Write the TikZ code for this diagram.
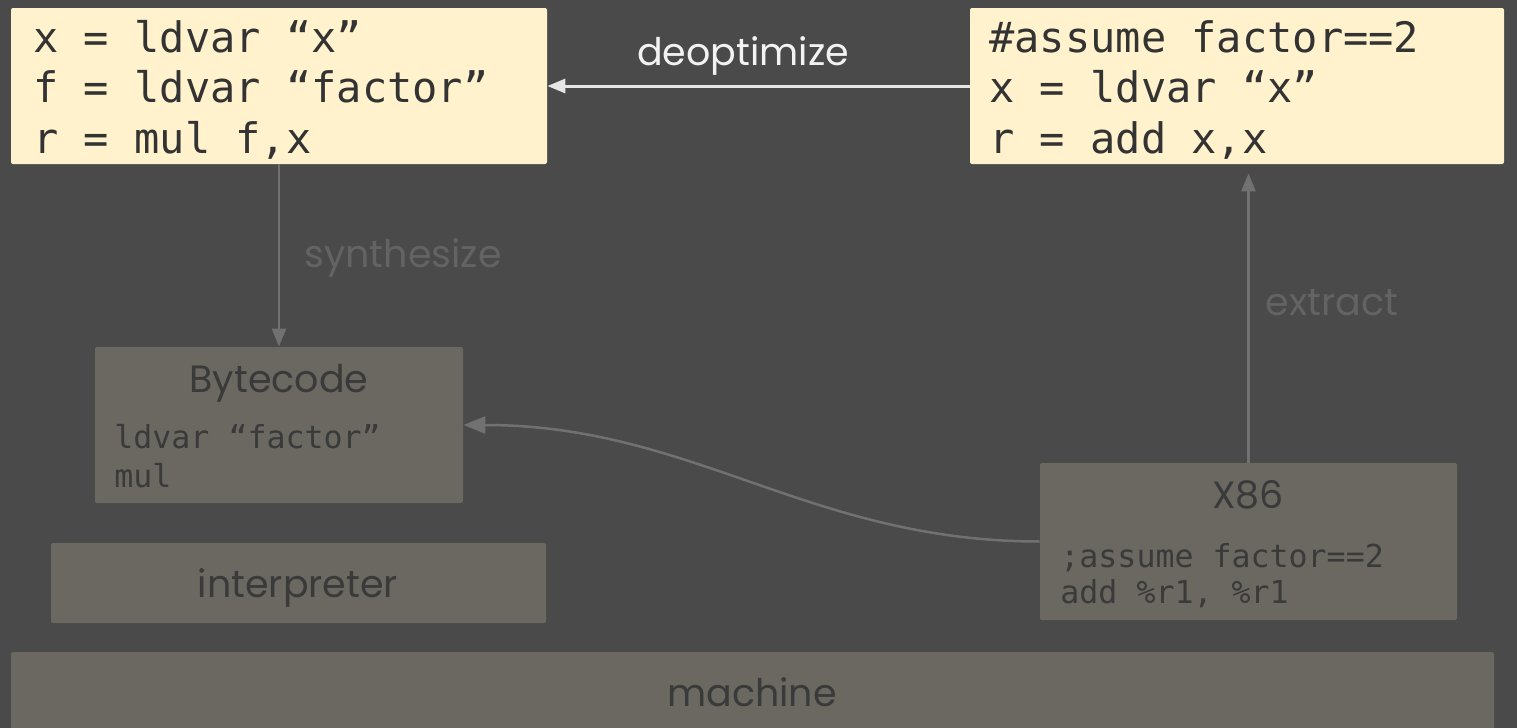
\documentclass[tikz,border=0pt]{standalone}
\usepackage{fontspec}
\setmainfont{Poppins}
\newfontfamily\codefont{DejaVu Sans Mono}
\usetikzlibrary{arrows.meta,fit}

\definecolor{bg}{HTML}{4A4A4A}
\definecolor{cream}{HTML}{FFF2CC}
\definecolor{slab}{HTML}{6B6862}
\definecolor{ink}{HTML}{3A3A3A}
\definecolor{codeink}{HTML}{333333}
\definecolor{faint}{HTML}{636363}
\definecolor{wire}{HTML}{717171}
\definecolor{bright}{HTML}{E6E6E6}
\definecolor{labelwhite}{HTML}{F2F2F2}

\begin{document}
\begin{tikzpicture}[x=0.5pt,y=-0.5pt,
  creambox/.style={fill=cream, rounded corners=1pt, inner sep=0pt},
  slabbox/.style={fill=slab, rounded corners=1pt, inner sep=0pt},
  bigcode/.style={inner sep=0pt, anchor=base west, text=codeink,
    font=\codefont\fontsize{21pt}{25pt}\selectfont},
  smallcode/.style={inner sep=0pt, anchor=base west, text=ink,
    font=\codefont\fontsize{15.8pt}{19pt}\selectfont},
  title/.style={inner sep=0pt, anchor=base, text=ink,
    font=\fontsize{19pt}{23pt}\selectfont},
  edgelabel/.style={inner sep=0pt, anchor=base, text=faint,
    font=\fontsize{19pt}{23pt}\selectfont},
  flow/.style={draw=wire, line width=1.25pt,
    -{Triangle[length=9pt,width=7pt]}},
]
% canvas
\fill[bg] (0,0) rectangle (1517,728);
\useasboundingbox (0,0) rectangle (1517,728);

% source-level IR (left) and optimized IR (right)
\node[creambox, fit={(11,8) (547,164)}] (src) {};
\node[bigcode] (src1) at (33,52)  {x = ldvar “x”};
\node[bigcode] (src2) at (33,102) {f = ldvar “factor”};
\node[bigcode] (src3) at (33,153) {r = mul f,x};

\node[creambox, fit={(970,8) (1504,164)}] (opt) {};
\node[bigcode] (opt1) at (989,52)  {\#assume factor==2};
\node[bigcode] (opt2) at (989,102) {x = ldvar “x”};
\node[bigcode] (opt3) at (989,153) {r = add x,x};

% bytecode
\node[slabbox, fit={(95,347) (463,503)}] (bc) {};
\node[title] (bctitle) at (279,392) {Bytecode};
\node[smallcode] (bc1) at (114,448) {ldvar “factor”};
\node[smallcode] (bc2) at (114,487) {mul};

% native code
\node[slabbox, fit={(1040,463) (1457,620)}] (x86) {};
\node[title] (x86title) at (1248,508) {X86};
\node[smallcode] (x861) at (1060,567) {;assume factor==2};
\node[smallcode] (x862) at (1060,603) {add \%r1, \%r1};

% execution layers
\node[slabbox, fit={(51,543) (546,623)}] (interp) {};
\node[title] (interptitle) at (298,597) {interpreter};
\node[slabbox, fit={(11,652) (1494,740)}] (machine) {};
\node[title] (machinetitle) at (752,706) {machine};

% transitions
\draw[draw=bright, line width=1.5pt, -{Triangle[length=9pt,width=7pt]}]
  (opt.west) -- (src.east);
\node[edgelabel, text=labelwhite] (deopt) at (743,65) {deoptimize};

\draw[flow] (src.south) -- (bc.north);
\node[edgelabel] (synth) at (403,267) {synthesize};

\draw[flow, shorten >=4.5pt] (x86.north) -- (x86.north |- opt.south);
\node[edgelabel] (extr) at (1332,315) {extract};

\draw[draw=wire, line width=1.25pt, -{Triangle[length=11pt,width=8.5pt]}]
  (x86.west) to[out=180,in=0] (bc.east);
\end{tikzpicture}
\end{document}
